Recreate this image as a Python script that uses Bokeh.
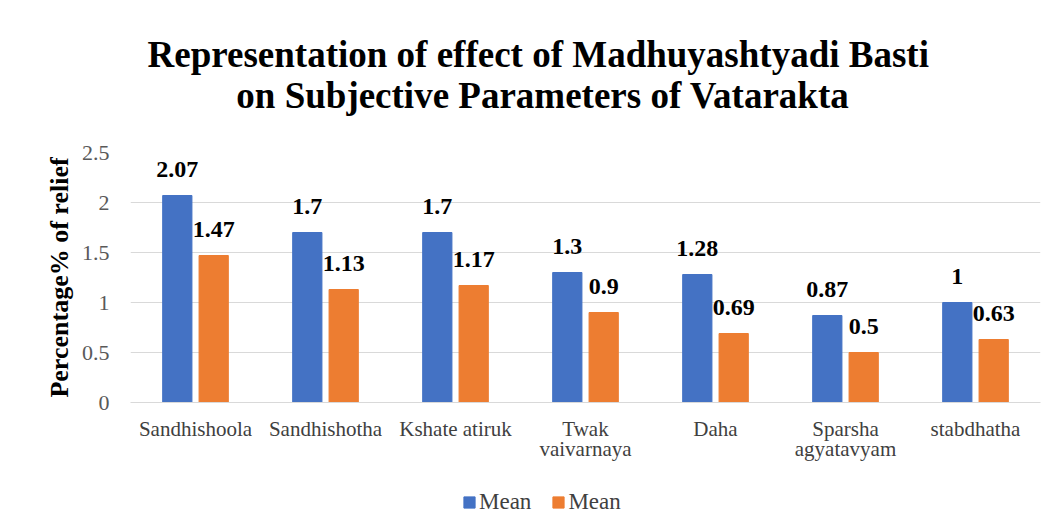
from bokeh.plotting import figure
from bokeh.layouts import column
from bokeh.models import ColumnDataSource, FactorRange, Range1d, FixedTicker, Legend, LegendItem
from bokeh.transform import dodge
from bokeh.core.properties import value
from bokeh.embed import file_html
from bokeh.resources import INLINE

categories = ["Sandhishoola", "Sandhishotha", "Kshate atiruk", "Twak\nvaivarnaya",
              "Daha", "Sparsha\nagyatavyam", "stabdhatha"]
mean_blue = [2.07, 1.7, 1.7, 1.3, 1.28, 0.87, 1.0]
mean_orange = [1.47, 1.13, 1.17, 0.9, 0.69, 0.5, 0.63]
series_names = ["Mean", "Mean"]
y_ticks = [0, 0.5, 1, 1.5, 2, 2.5]
y_tick_labels = ["0", "0.5", "1", "1.5", "2", "2.5"]
title_lines = ["Representation  of effect of Madhuyashtyadi  Basti",
               "on Subjective Parameters  of Vatarakta"]
y_axis_title = "Percentage% of relief"

SERIF = "Liberation Serif"
GLYPH_FONT = value("'Liberation Serif'")
BLUE = "#4472C4"
ORANGE = "#ED7D31"
W = 1046
LEFT, RIGHT = 130, 6          # frame borders shared by all three stacked figures
FX0, FX1 = LEFT, W - RIGHT    # page-pixel span of the frames


def blank(fig):
    fig.axis.visible = False
    fig.grid.visible = False
    fig.outline_line_color = None


# ---- title block ----
tf = figure(width=W, height=120, x_range=Range1d(FX0, FX1), y_range=Range1d(120, 0),
            output_backend="svg", toolbar_location=None,
            min_border_left=LEFT, min_border_right=RIGHT, min_border_top=0, min_border_bottom=0)
blank(tf)
tsrc = ColumnDataSource(dict(x=[547, 547], y=[54, 95], t=title_lines))
tf.text(x="x", y="y", text="t", source=tsrc, text_align="center", text_baseline="alphabetic",
        text_font=GLYPH_FONT, text_font_style="bold", text_font_size="37px",
        text_color="#000000")

# ---- chart ----
src = ColumnDataSource(dict(
    cat=categories,
    m1=mean_blue,
    m2=mean_orange,
    l1=[f"{v:g}" for v in mean_blue],
    l2=[f"{v:g}" for v in mean_orange],
))

p = figure(x_range=FactorRange(*categories), y_range=Range1d(0, 2.5),
           width=W, height=350, output_backend="svg", toolbar_location=None,
           min_border_left=LEFT, min_border_right=RIGHT, min_border_top=32, min_border_bottom=68)
p.outline_line_color = None

r1 = p.vbar(x=dodge("cat", -0.14, range=p.x_range), top="m1", width=0.225, source=src,
            fill_color=BLUE, line_color=BLUE)
r2 = p.vbar(x=dodge("cat", 0.14, range=p.x_range), top="m2", width=0.225, source=src,
            fill_color=ORANGE, line_color=ORANGE)

for col, off in (("1", -0.14), ("2", 0.14)):
    p.text(x=dodge("cat", off, range=p.x_range), y="m" + col, text="l" + col, source=src,
           text_align="center", text_baseline="alphabetic", y_offset=-26,
           text_font=GLYPH_FONT, text_font_style="bold", text_font_size="24px",
           text_color="#000000")

p.xaxis.major_label_text_font = SERIF
p.xaxis.major_label_text_font_size = "21px"
p.xaxis.major_label_text_color = "#404040"
p.xaxis.major_label_text_line_height = 0.85
p.xaxis.major_tick_line_color = None
p.xaxis.minor_tick_line_color = None
p.xaxis.major_label_standoff = 8
p.xaxis.axis_line_color = "#D9D9D9"

p.yaxis.ticker = FixedTicker(ticks=y_ticks)
p.yaxis.major_label_overrides = dict(zip(y_ticks, y_tick_labels))
p.yaxis.major_label_text_font = SERIF
p.yaxis.major_label_text_font_size = "22px"
p.yaxis.major_label_text_color = "#595959"
p.yaxis.major_tick_line_color = None
p.yaxis.minor_tick_line_color = None
p.yaxis.axis_line_color = None
p.yaxis.major_label_standoff = 15
p.yaxis.axis_label = y_axis_title
p.yaxis.axis_label_text_font = SERIF
p.yaxis.axis_label_text_font_style = "bold"
p.yaxis.axis_label_text_font_size = "26px"
p.yaxis.axis_label_text_color = "#000000"
p.yaxis.axis_label_standoff = 5

p.xgrid.grid_line_color = None
p.ygrid.grid_line_color = "#D9D9D9"
p.ygrid.ticker = FixedTicker(ticks=y_ticks)

# ---- legend block ----
bf = figure(width=W, height=58, x_range=Range1d(FX0, FX1), y_range=Range1d(0, 1),
            output_backend="svg", toolbar_location=None,
            min_border_left=LEFT, min_border_right=RIGHT, min_border_top=0, min_border_bottom=0)
blank(bf)
# proxy renderers (outside the visible range) that only provide the legend swatches
lr1 = bf.vbar(x=[0], top=[0], width=1, fill_color=BLUE, line_color=BLUE)
lr2 = bf.vbar(x=[0], top=[0], width=1, fill_color=ORANGE, line_color=ORANGE)
legend = Legend(items=[LegendItem(label=series_names[0], renderers=[lr1], index=0),
                       LegendItem(label=series_names[1], renderers=[lr2], index=0)],
                location=(462 - FX0, 13), orientation="horizontal",
                glyph_width=14, glyph_height=14, label_standoff=3, spacing=20,
                padding=0, margin=0, border_line_color=None, background_fill_alpha=0,
                label_text_font=SERIF, label_text_font_size="23px", label_text_color="#404040")
bf.add_layout(legend)

open("out.html", "w").write(file_html(column(tf, p, bf), INLINE))
